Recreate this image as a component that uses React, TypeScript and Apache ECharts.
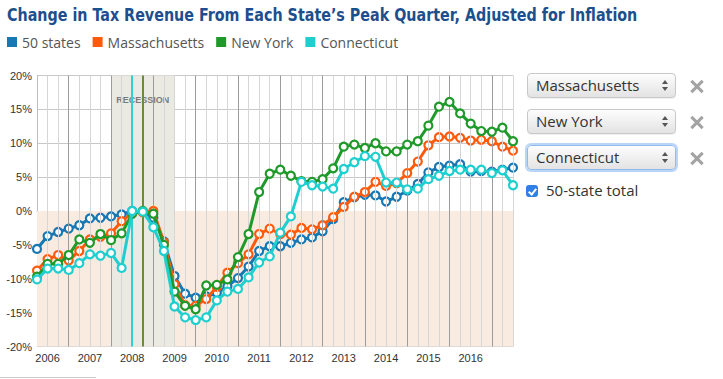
import React, { useEffect, useRef } from "react";
import * as echarts from "echarts";

const TITLE = "Change in Tax Revenue From Each State\u2019s Peak Quarter, Adjusted for Inflation";

const quarters = [
  "2005 Q4",
  "2006 Q1", "2006 Q2", "2006 Q3", "2006 Q4",
  "2007 Q1", "2007 Q2", "2007 Q3", "2007 Q4",
  "2008 Q1", "2008 Q2", "2008 Q3", "2008 Q4",
  "2009 Q1", "2009 Q2", "2009 Q3", "2009 Q4",
  "2010 Q1", "2010 Q2", "2010 Q3", "2010 Q4",
  "2011 Q1", "2011 Q2", "2011 Q3", "2011 Q4",
  "2012 Q1", "2012 Q2", "2012 Q3", "2012 Q4",
  "2013 Q1", "2013 Q2", "2013 Q3", "2013 Q4",
  "2014 Q1", "2014 Q2", "2014 Q3", "2014 Q4",
  "2015 Q1", "2015 Q2", "2015 Q3", "2015 Q4",
  "2016 Q1", "2016 Q2", "2016 Q3", "2016 Q4",
  "2017 Q1",
];

const yearLabels = ["2006", "2007", "2008", "2009", "2010", "2011", "2012", "2013", "2014", "2015", "2016"];

const states50 = [
  -5.6, -3.7, -3.1, -2.6, -2.1, -1.1, -1.0, -0.8, -0.5, 0.0,
  -0.1, -1.0, -4.5, -9.6, -12.2, -12.8, -12.6, -12.1, -11.1, -9.9,
  -8.2, -5.9, -5.2, -5.2, -4.7, -4.2, -3.9, -3.0, -1.2, 1.3,
  2.0, 2.4, 2.3, 1.4, 2.1, 3.0, 4.0, 5.7, 6.5, 6.7,
  6.9, 5.8, 5.9, 5.8, 6.1, 6.4,
];

const massachusetts = [
  -8.8, -7.1, -6.5, -7.3, -5.9, -4.2, -3.8, -3.3, -1.5, -0.3,
  -0.2, 0.0, -4.6, -10.8, -13.9, -14.0, -13.0, -11.2, -9.1, -7.7,
  -6.4, -3.4, -2.6, -3.4, -3.5, -2.5, -2.7, -2.1, -0.9, 0.6,
  2.1, 2.8, 4.3, 3.7, 4.1, 5.6, 7.3, 9.7, 10.9, 11.0,
  10.8, 10.4, 10.5, 10.3, 9.5, 8.9,
];

const newYork = [
  -9.7, -7.8, -7.8, -6.5, -4.2, -4.7, -3.4, -4.3, -3.3, -0.4,
  0.0, -0.4, -5.0, -11.9, -14.0, -14.5, -11.0, -10.9, -10.1, -6.8,
  -3.4, 2.8, 5.5, 6.1, 5.2, 4.4, 4.3, 4.7, 6.3, 9.5,
  9.8, 9.3, 10.0, 8.8, 8.8, 9.8, 10.3, 12.6, 15.4, 16.1,
  14.4, 12.9, 11.8, 11.7, 12.3, 10.3,
];

const connecticut = [
  -10.1, -8.5, -8.5, -8.7, -7.7, -6.4, -6.6, -6.2, -8.4, 0.0,
  -0.1, -2.4, -5.9, -14.1, -15.7, -16.1, -15.7, -13.2, -11.9, -11.5,
  -9.8, -7.6, -6.7, -3.2, -0.8, 4.3, 3.8, 3.6, 3.3, 6.2,
  7.2, 8.1, 8.0, 4.2, 4.2, 3.2, 3.3, 4.7, 5.2, 5.9,
  6.1, 6.1, 6.1, 5.6, 6.0, 3.8,
];

const seriesNames = ["50 states", "Massachusetts", "New York", "Connecticut"];
const seriesColors = ["#1778b3", "#ff5a0c", "#1f9a2a", "#1fcfcf"];
const seriesData = [states50, massachusetts, newYork, connecticut];

const recessionStart = "2007 Q3";
const recessionEnd = "2009 Q1";
const peakConnecticut = "2008 Q1";
const peakNewYork = "2008 Q2";

const yTicks = { min: -20, max: 20, step: 5 };

function FakeSelect({ top, label, focused }: { top: number; label: string; focused?: boolean }) {
  return (
    <div
      style={{
        position: "absolute",
        left: 527,
        top,
        width: 149,
        height: 25,
        boxSizing: "border-box",
        border: focused ? "1px solid #8fbbee" : "1px solid #c8c8c8",
        borderRadius: 4,
        background: "linear-gradient(#fdfdfd, #e3e3e3)",
        boxShadow: focused ? "0 0 0 2px rgba(140,185,240,0.6)" : "0 1px 1px rgba(0,0,0,0.06)",
        fontFamily: "'Open Sans', sans-serif",
        fontSize: 15,
        color: "#333",
        lineHeight: "23px",
        paddingLeft: 8,
        whiteSpace: "nowrap",
      }}
    >
      {label}
      <div
        style={{
          position: "absolute",
          right: 7,
          top: 6,
          width: 0,
          height: 0,
          borderLeft: "3.5px solid transparent",
          borderRight: "3.5px solid transparent",
          borderBottom: "4px solid #555",
        }}
      />
      <div
        style={{
          position: "absolute",
          right: 7,
          top: 13,
          width: 0,
          height: 0,
          borderLeft: "3.5px solid transparent",
          borderRight: "3.5px solid transparent",
          borderTop: "4px solid #555",
        }}
      />
    </div>
  );
}

function XMark({ cy }: { cy: number }) {
  const bar = (deg: number) => (
    <div
      style={{
        position: "absolute",
        left: 0,
        top: 6.5,
        width: 16,
        height: 3,
        background: "#a3a3a3",
        transform: `rotate(${deg}deg)`,
      }}
    />
  );
  return (
    <div style={{ position: "absolute", left: 689, top: cy - 8, width: 16, height: 16 }}>
      {bar(45)}
      {bar(-45)}
    </div>
  );
}

export default function App() {
  const ref = useRef<HTMLDivElement>(null);

  useEffect(() => {
    if (!ref.current) return;
    const chart = echarts.init(ref.current, undefined, { renderer: "svg" });

    const lineSeries = seriesNames.map((name, k) => ({
      name,
      type: "line",
      data: seriesData[k],
      z: 3 + k,
      symbol: "circle",
      symbolSize: 8,
      showSymbol: true,
      showAllSymbol: true,
      lineStyle: { width: 3, color: seriesColors[k] },
      itemStyle: { color: "#ffffff", borderColor: seriesColors[k], borderWidth: 2.2 },
      emphasis: { disabled: true },
      silent: true,
    }));

    const option: any = {
      animation: false,
      graphic: [
        {
          type: "text",
          x: 7,
          y: 5,
          scaleX: 0.86,
          silent: true,
          style: {
            text: TITLE,
            fill: "#1d4e8e",
            font: "bold 18.5px 'DejaVu Sans Condensed', 'DejaVu Sans', sans-serif",
            textVerticalAlign: "top",
          },
        },
      ],
      legend: {
        data: seriesNames.map((n, k) => ({ name: n, itemStyle: { color: seriesColors[k], borderWidth: 0 } })),
        left: 7,
        top: 35,
        padding: 0,
        icon: "rect",
        itemWidth: 10,
        itemHeight: 10,
        itemGap: 12,
        selectedMode: false,
        textStyle: { fontFamily: "'Open Sans', sans-serif", fontSize: 14, color: "#555" },
      },
      grid: { left: 37, right: 210, top: 75.5, bottom: 32.5, containLabel: false },
      xAxis: {
        type: "category",
        data: quarters,
        boundaryGap: false,
        axisLine: { show: true, lineStyle: { color: "#bdbdbd" } },
        axisTick: { show: false },
        axisLabel: {
          interval: (_i: number, v: string) => v.endsWith("Q1") && yearLabels.includes(v.slice(0, 4)),
          formatter: (v: string) => v.slice(0, 4),
          color: "#333",
          fontSize: 11,
          margin: 6,
          fontFamily: "'Liberation Sans', sans-serif",
        },
        splitLine: { show: false },
      },
      yAxis: {
        type: "value",
        min: yTicks.min,
        max: yTicks.max,
        interval: yTicks.step,
        axisLine: { show: true, lineStyle: { color: "#bdbdbd" } },
        axisTick: { show: false },
        axisLabel: {
          formatter: "{value}%",
          color: "#333",
          fontSize: 11,
          margin: 5,
          fontFamily: "'Liberation Sans', sans-serif",
        },
        splitLine: { show: true, lineStyle: { color: "#c8c8c8", width: 1 } },
      },
      series: [
        {
          name: "bg",
          type: "line",
          data: [],
          z: -1,
          silent: true,
          markArea: {
            silent: true,
            data: [
              [
                { xAxis: quarters[0], yAxis: yTicks.min, itemStyle: { color: "#f9ebe0" } },
                { xAxis: quarters[quarters.length - 1], yAxis: 0 },
              ],
              [
                {
                  xAxis: recessionStart,
                  yAxis: yTicks.min,
                  itemStyle: { color: "#eaeae2" },
                  label: {
                    show: true,
                    position: "insideTop",
                    distance: 20,
                    color: "#7a7a7a",
                    fontWeight: "bold",
                    fontSize: 9,
                    fontFamily: "'Liberation Sans', sans-serif",
                  },
                  name: "RECESSION",
                },
                { xAxis: recessionEnd, yAxis: yTicks.max },
              ],
            ],
          },
        },
        {
          name: "vgrid",
          type: "line",
          data: [],
          z: 0,
          silent: true,
          markLine: {
            silent: true,
            symbol: ["none", "none"],
            label: { show: false },
            data: quarters.slice(1).map((q) => ({
              xAxis: q,
              lineStyle: { color: q.endsWith("Q3") ? "#9c9c9c" : "#d6d6d6", width: 1, type: "solid" },
            })),
          },
        },
        {
          name: "peaks",
          type: "line",
          data: [],
          z: 1,
          silent: true,
          markLine: {
            silent: true,
            symbol: ["none", "none"],
            label: { show: false },
            data: [
              { xAxis: peakConnecticut, lineStyle: { color: "#2fd1d1", width: 2, type: "solid" } },
              { xAxis: peakNewYork, lineStyle: { color: "#6b8b38", width: 2, type: "solid" } },
            ],
          },
        },
        ...lineSeries,
      ],
    };

    chart.setOption(option);
    return () => chart.dispose();
  }, []);

  return (
    <div style={{ position: "fixed", left: 0, top: 0, width: 723, height: 379, background: "#fff", overflow: "hidden" }}>
      <div ref={ref} style={{ position: "absolute", left: 0, top: 0, width: 723, height: 379 }} />
      <FakeSelect top={73} label="Massachusetts" />
      <FakeSelect top={109} label="New York" />
      <FakeSelect top={145} label="Connecticut" focused />
      <XMark cy={86} />
      <XMark cy={122} />
      <XMark cy={158} />
      <div
        style={{
          position: "absolute",
          left: 526,
          top: 185,
          width: 12,
          height: 12,
          borderRadius: 3,
          background: "#2f7fe6",
        }}
      >
        <div
          style={{
            position: "absolute",
            left: 4,
            top: 1.5,
            width: 3,
            height: 6,
            borderRight: "2px solid #fff",
            borderBottom: "2px solid #fff",
            transform: "rotate(40deg)",
          }}
        />
      </div>
      <div
        style={{
          position: "absolute",
          left: 546,
          top: 180,
          fontFamily: "'Open Sans', sans-serif",
          fontSize: 15,
          color: "#333",
          lineHeight: "20px",
          whiteSpace: "nowrap",
        }}
      >
        50-state total
      </div>
      <div style={{ position: "absolute", left: 0, top: 377, width: 96, height: 1, background: "#ccc" }} />
    </div>
  );
}
